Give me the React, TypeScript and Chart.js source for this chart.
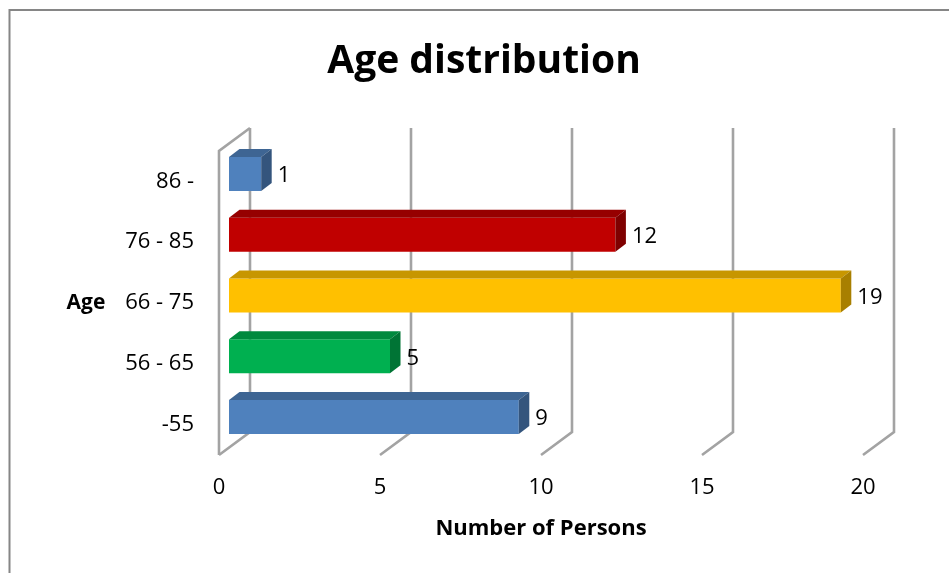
import { useEffect, useRef } from 'react';
import { Chart, registerables } from 'chart.js';

Chart.register(...registerables);

// Age groups, listed top to bottom as they appear on the vertical axis
const ageGroups = ['86 -', '76 - 85', '66 - 75', '56 - 65', '-55'];
const personCounts = [1, 12, 19, 5, 9];
const groupColors = ['#4F81BD', '#C00000', '#FFC000', '#00B050', '#4F81BD'];
const xTickValues = [0, 5, 10, 15, 20];

const chartTitle = 'Age distribution';
const xAxisTitle = 'Number of Persons';
const yAxisTitle = 'Age';

const FONT = '"Open Sans", sans-serif';
const GRID_COLOR = '#A3A3A3';

// Perspective offsets: the back wall sits up and to the right of the front plane
const WALL_DX = 31;
const WALL_DY = 23;
// Bars sit in the middle of the depth
const BAR_OFF_X = 10;
const BAR_OFF_Y = 7.5;
const BAR_DX = 10.5;
const BAR_DY = 8;

function shade(hex: string, f: number): string {
  const n = parseInt(hex.slice(1), 16);
  const r = Math.round(((n >> 16) & 255) * f);
  const g = Math.round(((n >> 8) & 255) * f);
  const b = Math.round((n & 255) * f);
  return `rgb(${r},${g},${b})`;
}

const depthPlugin = {
  id: 'depth3d',
  beforeDraw(chart: any) {
    const { ctx } = chart;
    ctx.save();
    ctx.fillStyle = '#ffffff';
    ctx.fillRect(0, 0, chart.width, chart.height);
    // outer frame of the chart object
    ctx.strokeStyle = '#868686';
    ctx.lineWidth = 2;
    ctx.strokeRect(9.5, 10, chart.width + 20, chart.height + 20);
    // title
    ctx.fillStyle = '#000';
    ctx.font = `bold 39px ${FONT}`;
    ctx.textAlign = 'center';
    ctx.textBaseline = 'middle';
    ctx.fillText(chartTitle, 484, 62);
    // vertical axis caption
    ctx.font = `bold 21px ${FONT}`;
    ctx.fillText(yAxisTitle, 86, 303);
    ctx.restore();
  },
  beforeDatasetsDraw(chart: any) {
    const { ctx, chartArea } = chart;
    const xs = chart.scales.x;
    const { top, bottom } = chartArea;
    ctx.save();
    ctx.strokeStyle = GRID_COLOR;
    ctx.lineWidth = 2.6;
    ctx.lineJoin = 'miter';
    ctx.lineCap = 'butt';
    xTickValues.forEach((v) => {
      const xf = xs.getPixelForValue(v);
      const xb = xf + WALL_DX;
      ctx.beginPath();
      ctx.moveTo(xb, top - WALL_DY);
      ctx.lineTo(xb, bottom - WALL_DY);
      ctx.lineTo(xf, bottom);
      ctx.stroke();
      if (v === 0) {
        // left wall edges
        ctx.beginPath();
        ctx.moveTo(xb, top - WALL_DY);
        ctx.lineTo(xf, top);
        ctx.lineTo(xf, bottom);
        ctx.stroke();
      }
    });
    ctx.restore();
    // front faces of the bars are drawn by Chart.js, shifted into the depth
    ctx.save();
    ctx.translate(BAR_OFF_X, -BAR_OFF_Y);
  },
  afterDatasetsDraw(chart: any) {
    const { ctx } = chart;
    ctx.restore();
    const meta = chart.getDatasetMeta(0);
    ctx.save();
    meta.data.forEach((el: any, i: number) => {
      const { x, y, base, height } = el.getProps(['x', 'y', 'base', 'height'], true);
      const L = base + BAR_OFF_X;
      const R = x + BAR_OFF_X;
      const T = y - height / 2 - BAR_OFF_Y;
      const B = y + height / 2 - BAR_OFF_Y;
      const c = groupColors[i];
      // top face
      ctx.fillStyle = shade(c, 0.78);
      ctx.beginPath();
      ctx.moveTo(L, T);
      ctx.lineTo(R, T);
      ctx.lineTo(R + BAR_DX, T - BAR_DY);
      ctx.lineTo(L + BAR_DX, T - BAR_DY);
      ctx.closePath();
      ctx.fill();
      // side face
      ctx.fillStyle = shade(c, 0.66);
      ctx.beginPath();
      ctx.moveTo(R, T);
      ctx.lineTo(R + BAR_DX, T - BAR_DY);
      ctx.lineTo(R + BAR_DX, B - BAR_DY);
      ctx.lineTo(R, B);
      ctx.closePath();
      ctx.fill();
      // value label
      ctx.fillStyle = '#000';
      ctx.font = `22px ${FONT}`;
      ctx.textAlign = 'left';
      ctx.textBaseline = 'middle';
      ctx.fillText(String(personCounts[i]), R + BAR_DX + 6, (T + B) / 2 + 2);
    });
    ctx.restore();
  },
};

export default function App() {
  const canvasRef = useRef<HTMLCanvasElement | null>(null);

  useEffect(() => {
    const canvas = canvasRef.current;
    if (!canvas) return;
    const chart = new Chart(canvas, {
      type: 'bar',
      data: {
        labels: ageGroups,
        datasets: [
          {
            data: personCounts,
            backgroundColor: groupColors,
            borderWidth: 0,
            categoryPercentage: 1,
            barPercentage: 0.56,
          },
        ],
      },
      options: {
        indexAxis: 'y',
        responsive: false,
        animation: false,
        devicePixelRatio: 1,
        layout: { padding: { top: 151, right: 86, left: 0, bottom: 0 } },
        plugins: {
          legend: { display: false },
          tooltip: { enabled: false },
          title: { display: false },
        },
        scales: {
          x: {
            type: 'linear',
            min: 0,
            max: 20,
            grid: { display: false, drawTicks: false },
            border: { display: false },
            ticks: {
              stepSize: 5,
              padding: 20,
              color: '#000',
              font: { family: FONT, size: 22 },
            },
            title: {
              display: true,
              text: xAxisTitle,
              color: '#000',
              font: { family: FONT, size: 22, weight: 'bold' },
              padding: { top: 0, bottom: 31 },
            },
            afterFit: (scale: any) => {
              scale.height = 118;
            },
          },
          y: {
            type: 'category',
            grid: { display: false, drawTicks: false },
            border: { display: false },
            ticks: {
              padding: 25,
              color: '#000',
              font: { family: FONT, size: 22 },
            },
            afterFit: (scale: any) => {
              scale.width = 219;
            },
          },
        },
      },
      plugins: [depthPlugin],
    });
    return () => chart.destroy();
  }, []);

  return (
    <div style={{ position: 'fixed', left: 0, top: 0, width: 949, height: 573 }}>
      <canvas ref={canvasRef} width={949} height={573} />
    </div>
  );
}
